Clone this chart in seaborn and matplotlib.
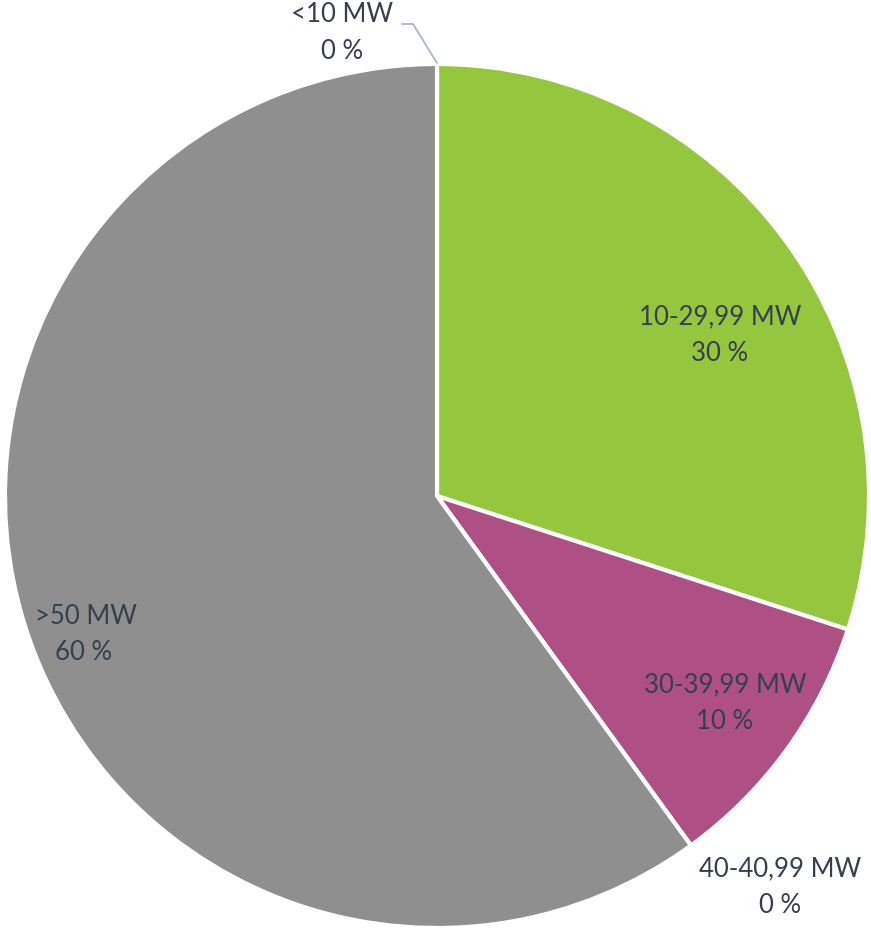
import matplotlib
matplotlib.use("Agg")
import matplotlib.pyplot as plt
import seaborn as sns
import numpy as np

sns.set_theme(style="white")
plt.rcParams['font.family'] = ['Lato', 'DejaVu Sans']

categories = ["<10 MW", "10-29,99 MW", "30-39,99 MW", "40-40,99 MW", ">50 MW"]
values = [0, 30, 10, 0, 60]
pct_labels = ["0 %", "30 %", "10 %", "0 %", "60 %"]
colors = ["#4472C4", "#94C73D", "#AF5084", "#5B9BD5", "#8F8F8F"]

W, H = 871, 932
fig = plt.figure(figsize=(W / 100, H / 100), dpi=100)
ax = fig.add_axes([0, 0, 1, 1])
cx, cy, R = 437, H - 496, 432
ax.pie(values, colors=colors, startangle=90, counterclock=False,
       center=(cx, cy), radius=R, normalize=True,
       wedgeprops=dict(edgecolor="white", linewidth=3))
ax.set_xlim(0, W)
ax.set_ylim(0, H)
ax.set_aspect("equal")
ax.axis("off")

txt_color = "#363F4E"
fs = 18.5
# label positions (text anchors, pixel coords from top)
label_pos = {
    "<10 MW": (342, 33),
    "10-29,99 MW": (720, 335),
    "30-39,99 MW": (725, 703),
    "40-40,99 MW": (780, 887),
    ">50 MW": (75, 635),
}
for cat, pl in zip(categories, pct_labels):
    x, y = label_pos[cat]
    if cat == ">50 MW":
        ax.text(x - 40, H - 617, cat, ha="left", va="center", fontsize=fs, color=txt_color)
        ax.text(x + 9, H - 652, pl, ha="center", va="center", fontsize=fs, color=txt_color)
    else:
        ax.text(x, H - y, cat + "\n" + pl, ha="center", va="center", fontsize=fs,
                color=txt_color, linespacing=1.6, multialignment="center")

# leader line for <10 MW
ax.plot([402, 413, 437], [H - 24, H - 24, H - 63], color="#A8B6CC", lw=1.3)

fig.savefig("out.png", dpi=100)
